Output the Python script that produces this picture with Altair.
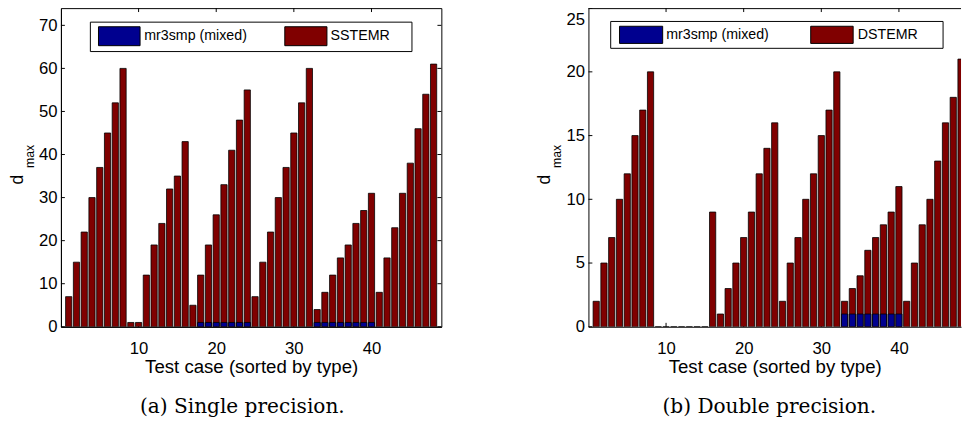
import altair as alt
import pandas as pd

# ---------------- data ----------------
cases = list(range(1, 49))
sstemr = [7, 15, 22, 30, 37, 45, 52, 60,
          1, 1,
          12, 19, 24, 32, 35, 43,
          5, 12, 19, 26, 33, 41, 48, 55,
          7, 15, 22, 30, 37, 45, 52, 60,
          4, 8, 12, 16, 19, 24, 27, 31,
          8, 16, 23, 31, 38, 46, 54, 61]
mixed_single = [0] * 17 + [1] * 7 + [0] * 8 + [1] * 8 + [0] * 8
dstemr = [2, 5, 7, 10, 12, 15, 17, 20,
          0, 0, 0, 0, 0, 0, 0,
          9,
          1, 3, 5, 7, 9, 12, 14, 16,
          2, 5, 7, 10, 12, 15, 17, 20,
          2, 3, 4, 6, 7, 8, 9, 11,
          2, 5, 8, 10, 13, 16, 18, 21]
mixed_double = [0] * 32 + [1] * 8 + [0] * 8
x_ticks = [10, 20, 30, 40]
y_ticks_single = [0, 10, 20, 30, 40, 50, 60, 70]
y_ticks_double = [0, 5, 10, 15, 20, 25]
mixed_label = "mr3smp (mixed)"
captions = ["(a) Single precision.", "(b) Double precision."]
x_title = "Test case (sorted by type)"

RED = "#800000"
BLUE = "#00008f"
SANS = "Liberation Sans"
SERIF = "DejaVu Serif"
H = 325


def one_row(**kw):
    return pd.DataFrame([kw])


def panel(ref_name, ref_vals, mixed_vals, y_ticks, y_max, x_max, width,
          caption, cap_dx, leg, top_rule):
    df = pd.DataFrame({"case": cases, ref_name: ref_vals, mixed_label: mixed_vals})
    long = df.melt(id_vars="case", var_name="series", value_name="dmax")
    xs = alt.Scale(domain=[0, x_max], nice=False, zero=False)
    ys = alt.Scale(domain=[0, y_max], nice=False, zero=True)
    xax = alt.Axis(values=x_ticks, title=x_title, labelPadding=14, titlePadding=2, labelFlush=False)
    yax = alt.Axis(values=y_ticks, title=None, labelPadding=4,
                   labelOffset=alt.condition("datum.value == 25", alt.value(12), alt.value(0)))
    color = alt.Color("series:N",
                      scale=alt.Scale(domain=[mixed_label, ref_name], range=[BLUE, RED]),
                      legend=None)
    base = alt.Chart(long).transform_calculate(lo="datum.case - 0.4", hi="datum.case + 0.4")
    enc = dict(
        x=alt.X("lo:Q", scale=xs, axis=xax),
        x2="hi:Q",
        y=alt.Y("dmax:Q", scale=ys, stack=None, axis=yax),
        y2=alt.datum(0),
        color=color,
    )
    bars_ref = base.transform_filter(alt.datum.series == ref_name).mark_bar(
        stroke="black", strokeWidth=0.8, clip=True, opacity=1).encode(**enc)
    bars_mixed = base.transform_filter(
        (alt.datum.series == mixed_label) & (alt.datum.dmax > 0)).mark_bar(
        stroke="black", strokeWidth=0.8, clip=True, opacity=1).encode(**enc)

    yt = alt.Chart(pd.DataFrame({"v": y_ticks}))
    xt = alt.Chart(pd.DataFrame({"v": x_ticks}))
    tick_l = yt.mark_rule(color="black", strokeWidth=1).encode(
        y=alt.Y("v:Q", scale=ys, axis=yax), x=alt.value(0), x2=alt.value(4))
    tick_r = yt.mark_rule(color="black", strokeWidth=1).encode(
        y=alt.Y("v:Q", scale=ys, axis=yax), x=alt.value(width - 4), x2=alt.value(width))
    tick_t = xt.mark_rule(color="black", strokeWidth=1).encode(
        x=alt.X("v:Q", scale=xs, axis=xax), y=alt.value(0), y2=alt.value(4))
    tick_b = xt.mark_rule(color="black", strokeWidth=1).encode(
        x=alt.X("v:Q", scale=xs, axis=xax), y=alt.value(H - 4), y2=alt.value(H))

    bx1, bx2, by1, by2 = leg["box"]
    box = alt.Chart(one_row(k=0)).mark_rect(fill="white", stroke="black", strokeWidth=1).encode(
        x=alt.value(bx1), x2=alt.value(bx2), y=alt.value(by1), y2=alt.value(by2))
    layers = [tick_l, tick_t, tick_b]
    if not top_rule:
        layers.append(tick_r)
    layers += [bars_ref, bars_mixed, box]
    for lbl, col, (sx1, sx2, sy1, sy2), tx in [(mixed_label, BLUE, leg["sw1"], leg["t1"]),
                                               (ref_name, RED, leg["sw2"], leg["t2"])]:
        layers.append(alt.Chart(one_row(k=0)).mark_rect(fill=col, stroke="black", strokeWidth=1).encode(
            x=alt.value(sx1), x2=alt.value(sx2), y=alt.value(sy1), y2=alt.value(sy2)))
        layers.append(alt.Chart(one_row(t=lbl)).mark_text(
            align="left", baseline="middle", font=SANS, fontSize=14.5, color="black").encode(
            text="t:N", x=alt.value(tx), y=alt.value((sy1 + sy2) / 2)))

    layers.append(alt.Chart(one_row(t="d")).mark_text(
        angle=270, align="left", baseline="alphabetic", font=SANS, fontSize=18, color="black").encode(
        text="t:N", x=alt.value(-39), y=alt.value(180)))
    layers.append(alt.Chart(one_row(t="max")).mark_text(
        angle=270, align="left", baseline="alphabetic", font=SANS, fontSize=12.5, color="black").encode(
        text="t:N", x=alt.value(-27.5), y=alt.value(163)))
    if top_rule:
        layers.append(alt.Chart(one_row(k=0)).mark_rule(color="black", strokeWidth=1).encode(
            x=alt.value(0), x2=alt.value(width), y=alt.value(0.5)))

    props = dict(
        width=width, height=H,
        title=alt.TitleParams(text=caption, orient="bottom", anchor="middle", frame="group",
                              font=SERIF, fontSize=20.5, fontWeight="normal", color="black",
                              dx=cap_dx, offset=21),
    )
    ch = alt.layer(*layers).properties(**props)
    if top_rule:
        ch = ch.properties(view=alt.ViewBackground(stroke="transparent"))
    return ch


left = panel("SSTEMR", sstemr, mixed_single, y_ticks_single, 74, 49, 388, captions[0], -9,
             dict(box=(30, 358, 14.3, 44.3), sw1=(38.3, 80.7, 19, 38.3), t1=85,
                  sw2=(228.3, 271.3, 19, 38.3), t2=275), top_rule=False)
right = panel("DSTEMR", dstemr, mixed_double, y_ticks_double, 25, 48, 380, captions[1], -5.5,
              dict(box=(22.7, 361.7, 13.6, 41), sw1=(31.7, 75.7, 18.5, 36), t1=79.3,
                   sw2=(226.7, 270, 18.5, 36), t2=274.7), top_rule=True)

chart = alt.hconcat(left, right, spacing=150, bounds="flush").resolve_scale(
    color="independent"
).properties(
    padding={"left": 0, "top": -5, "right": 0, "bottom": 0},
    background="white",
).configure_axis(
    labelFont=SANS, labelFontSize=17, labelColor="black",
    titleFont=SANS, titleFontSize=19, titleFontWeight="normal", titleColor="black",
    domainColor="black", domainWidth=1, ticks=False, grid=False,
).configure_view(stroke="black", strokeWidth=1)

chart.save("out.html", embed_options={"renderer": "svg", "actions": False})
